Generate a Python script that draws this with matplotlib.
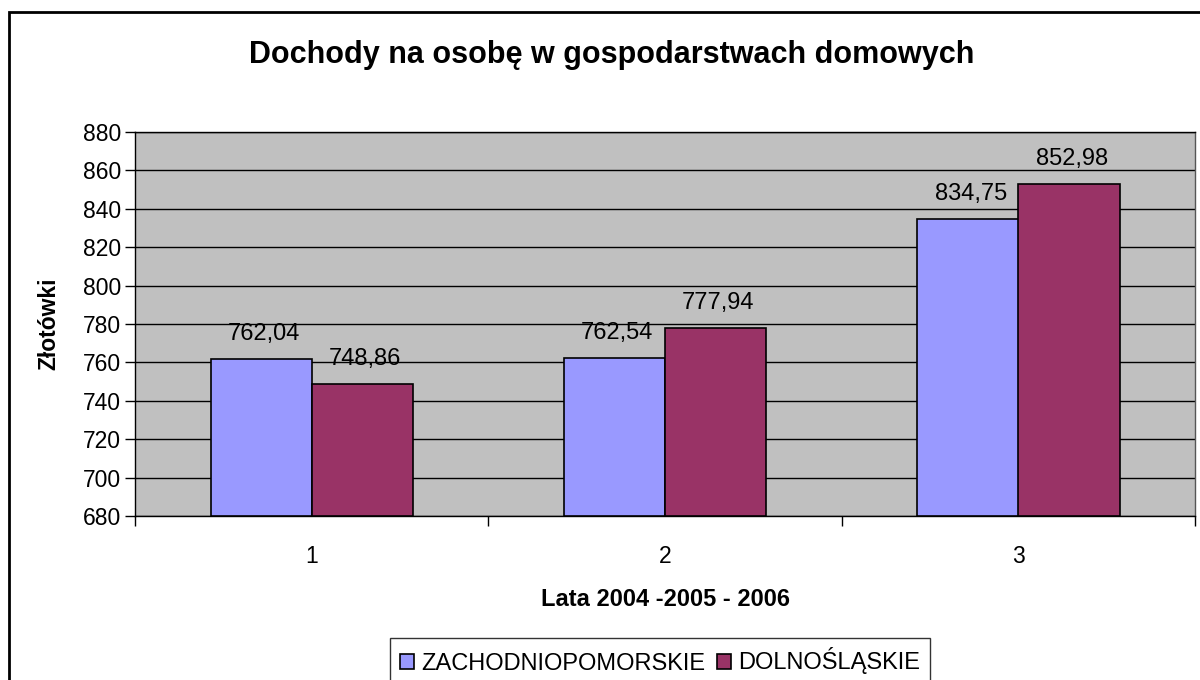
import matplotlib.pyplot as plt
import numpy as np
from matplotlib.patches import Rectangle

plt.rcParams['font.family'] = ['Liberation Sans', 'DejaVu Sans']

categories = ['1', '2', '3']
zachodniopomorskie = [762.04, 762.54, 834.75]
dolnoslaskie = [748.86, 777.94, 852.98]
labels_z = ['762,04', '762,54', '834,75']
labels_d = ['748,86', '777,94', '852,98']

fig = plt.figure(figsize=(12, 6.8), dpi=100)
ax = fig.add_axes([0.1125, 0.241, 0.8835, 0.565])
ax.set_facecolor('#C0C0C0')

x = np.arange(len(categories))
w = 0.286
b1 = ax.bar(x - w / 2, [v - 680 for v in zachodniopomorskie], w, bottom=680,
            color='#9999FF', edgecolor='black', linewidth=1.2,
            label='ZACHODNIOPOMORSKIE', zorder=3)
b2 = ax.bar(x + w / 2, [v - 680 for v in dolnoslaskie], w, bottom=680,
            color='#993366', edgecolor='black', linewidth=1.2,
            label='DOLNOŚLĄSKIE', zorder=3)

for xi, v, t in zip(x - w / 2, zachodniopomorskie, labels_z):
    ax.annotate(t, (xi, v), xytext=(2, 10), textcoords='offset points',
                ha='center', va='bottom', fontsize=17, zorder=4)
for xi, v, t in zip(x + w / 2, dolnoslaskie, labels_d):
    ax.annotate(t, (xi, v), xytext=(2, 10), textcoords='offset points',
                ha='center', va='bottom', fontsize=17, zorder=4)

ax.set_ylim(680, 880)
ax.set_yticks(np.arange(680, 881, 20))
ax.yaxis.grid(True, color='black', linewidth=1)
ax.set_axisbelow(True)
ax.set_xlim(-0.5, 2.5)
ax.set_xticks(x)
ax.set_xticklabels(categories)
ax.set_xticks([-0.5, 0.5, 1.5, 2.5], minor=True)
ax.tick_params(axis='x', which='major', length=0, pad=21, labelsize=16.5)
ax.tick_params(axis='x', which='minor', length=7, width=1, direction='out')
ax.tick_params(axis='y', length=7, width=1, labelsize=16.5, pad=3)

for s in ax.spines.values():
    s.set_color('black')
    s.set_linewidth(1)
ax.spines['right'].set_color('#555555')

ax.set_xlabel('Lata 2004 -2005 - 2006', fontsize=17, fontweight='bold', labelpad=14)
ax.set_ylabel('Złotówki', fontsize=16.5, fontweight='bold', labelpad=16)

fig.text(0.51, 1 - 55 / 680, 'Dochody na osobę w gospodarstwach domowych',
         ha='center', va='center', fontsize=22, fontweight='bold')

leg = fig.legend(handles=[b1, b2], loc='center', bbox_to_anchor=(0.55, 1 - 661 / 680),
                 ncol=2, frameon=True, fancybox=False, fontsize=17,
                 handlelength=0.6, handleheight=0.6, handletextpad=0.3,
                 columnspacing=0.5, borderpad=0.4)
leg.get_frame().set_edgecolor('black')
leg.get_frame().set_linewidth(1)

fig.patches.append(Rectangle((9 / 1200, -0.05), 1.1, 1.05 - 12 / 680,
                             transform=fig.transFigure, fill=False,
                             edgecolor='black', linewidth=2))

fig.savefig('out.png', dpi=100)
